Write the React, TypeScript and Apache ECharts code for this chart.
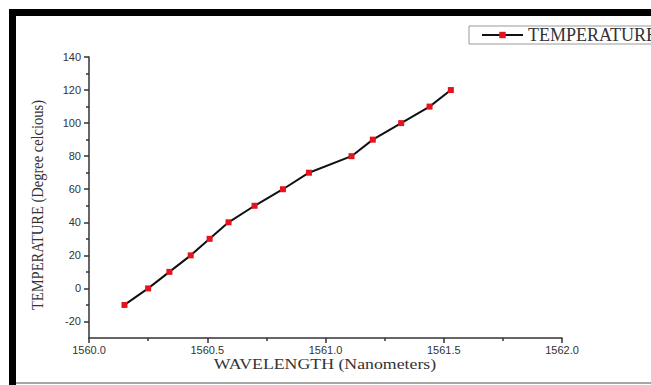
import React, { useEffect, useRef } from "react";
import * as echarts from "echarts";

const wavelength = [1560.15, 1560.25, 1560.34, 1560.43, 1560.51, 1560.59, 1560.7, 1560.82, 1560.93, 1561.11, 1561.2, 1561.32, 1561.44, 1561.53];
const temperature = [-10, 0, 10, 20, 30, 40, 50, 60, 70, 80, 90, 100, 110, 120];
const yMajorTicks = [-20, 0, 20, 40, 60, 80, 100, 120, 140];
const yMinorTicks = [-10, 10, 30, 50, 70, 90, 110, 130];
const seriesName = "TEMPERATURE";
const xTitle = "WAVELENGTH (Nanometers)";
const yTitle = "TEMPERATURE (Degree celcious)";

export default function App() {
  const ref = useRef<HTMLDivElement>(null);
  useEffect(() => {
    if (!ref.current) return;
    const chart = echarts.init(ref.current, null, { renderer: "svg" });
    const axisColor = "#333";
    const serif = "'Liberation Serif', 'Times New Roman', serif";
    const sans = "'Liberation Sans', Arial, sans-serif";
    chart.setOption({
      animation: false,
      backgroundColor: "#fff",
      grid: { left: 89, right: 89, top: 57, bottom: 47, containLabel: false },
      legend: {
        show: true,
        left: 469,
        top: 26,
        padding: [0, 4, 0, 12],
        itemWidth: 41,
        itemHeight: 8,
        borderColor: "#999",
        borderWidth: 1,
        borderRadius: 0,
        textStyle: { fontFamily: serif, fontSize: 18, color: "#333" },
        data: [seriesName],
      },
      xAxis: {
        type: "value",
        min: 1560,
        max: 1562,
        interval: 0.5,
        axisLine: { show: true, onZero: false, lineStyle: { color: axisColor, width: 1.5 } },
        axisTick: { show: true, inside: false, length: 5, lineStyle: { color: axisColor, width: 1.5 } },
        minorTick: { show: true, splitNumber: 2, length: 3, lineStyle: { color: axisColor, width: 1.5 } },
        splitLine: { show: false },
        axisLabel: {
          margin: 6,
          fontFamily: sans,
          fontSize: 11,
          color: "#333",
          formatter: (v: number) => v.toFixed(1),
        },
      },
      yAxis: [
        {
          type: "value",
          min: -30,
          max: 140,
          axisLine: { show: true, onZero: false, lineStyle: { color: axisColor, width: 1.5 } },
          axisTick: { show: true, inside: false, length: 5, customValues: yMajorTicks, lineStyle: { color: axisColor, width: 1.5 } },
          splitLine: { show: false },
          axisLabel: { customValues: yMajorTicks, margin: 8, fontFamily: sans, fontSize: 11, color: "#333" },
        },
        {
          type: "value",
          position: "left",
          min: -30,
          max: 140,
          axisLine: { show: false, onZero: false },
          axisTick: { show: true, inside: false, length: 3, customValues: yMinorTicks, lineStyle: { color: axisColor, width: 1.5 } },
          splitLine: { show: false },
          axisLabel: { show: false },
        },
      ],
      series: [
        {
          name: seriesName,
          type: "line",
          yAxisIndex: 0,
          data: wavelength.map((w, i) => [w, temperature[i]]),
          symbol: "rect",
          symbolSize: 6,
          lineStyle: { color: "#111", width: 2 },
          itemStyle: { color: "#e3141c" },
        },
      ],
      graphic: [
        { type: "rect", shape: { x: 9, y: 9, width: 642, height: 7 }, style: { fill: "#000" }, silent: true },
        { type: "rect", shape: { x: 9, y: 9, width: 7, height: 376 }, style: { fill: "#000" }, silent: true },
        { type: "line", shape: { x1: 16, y1: 383, x2: 651, y2: 383 }, style: { stroke: "#888", lineWidth: 1.5 }, silent: true },
        {
          type: "text",
          x: 325,
          y: 364,
          scaleX: 1.27,
          style: { text: xTitle, font: `14px ${serif}`, fill: "#333", align: "center", verticalAlign: "middle" },
          silent: true,
        },
        {
          type: "text",
          x: 37,
          y: 205,
          rotation: Math.PI / 2,
          scaleY: 1.15,
          style: { text: yTitle, font: `14.5px ${serif}`, fill: "#333", align: "center", verticalAlign: "middle" },
          silent: true,
        },
      ],
    });
    return () => chart.dispose();
  }, []);
  return <div ref={ref} style={{ position: "fixed", left: 0, top: 0, width: 651, height: 385 }} />;
}
